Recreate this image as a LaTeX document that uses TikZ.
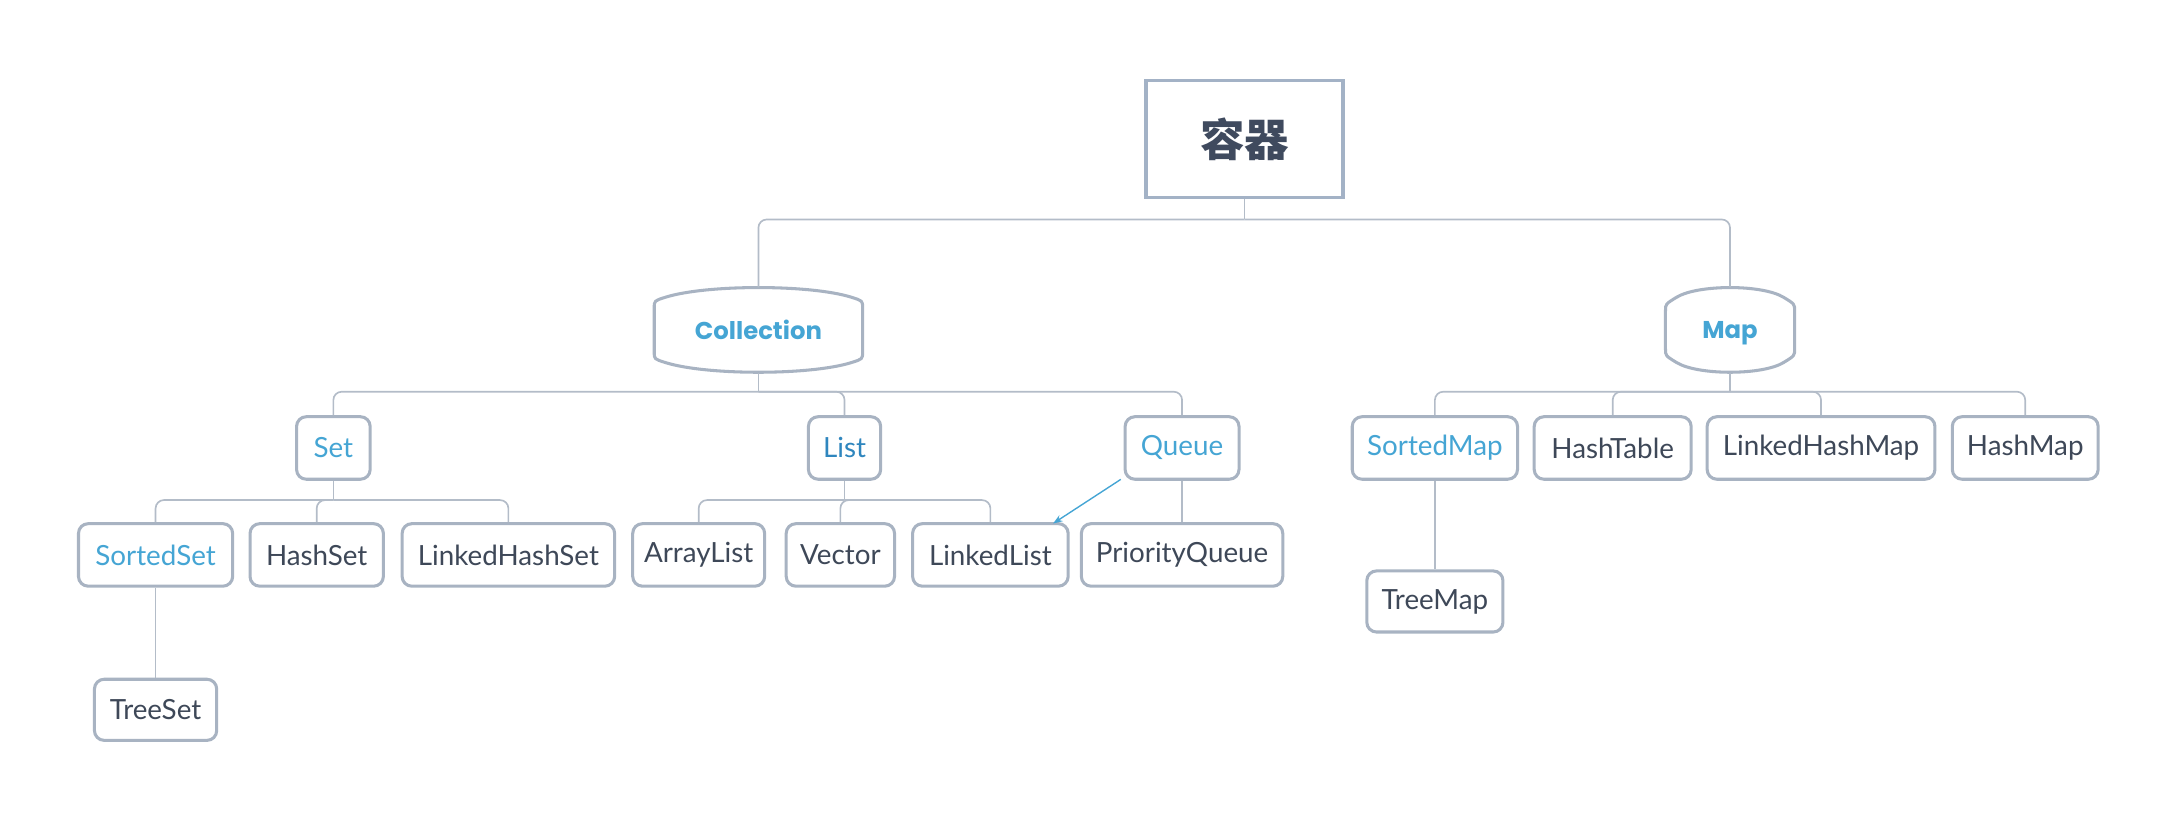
\documentclass[tikz,border=0pt]{standalone}
\usepackage{fontspec}
\usetikzlibrary{arrows.meta}
\setmainfont{Lato}
\newfontfamily\poppins{Poppins}
\newfontfamily\cjk{Noto Sans CJK SC}
\definecolor{bordc}{HTML}{A8B3C2}
\definecolor{linec}{HTML}{B3BCC8}
\definecolor{txtc}{HTML}{3E4858}
\definecolor{bluec}{HTML}{45A5D4}
\definecolor{listc}{HTML}{2F86BE}
\definecolor{rootc}{HTML}{A3B2C6}
\definecolor{roottxt}{HTML}{3F4A5E}
% #1 x, #2 y, #3 half width, #4 half height at the corners, #5 bulge
\newcommand\bulgebox[5]{%
\pgfmathsetmacro\bko{8*1.33*#5/(#3/2-8)}%
\draw[bulgestyle] ({#1-#3},{#2-#4+\bko+5}) -- ({#1-#3},{#2+#4-\bko-5})
 .. controls ({#1-#3},{#2+#4-\bko}) .. ({#1-#3+8},{#2+#4})
 .. controls ({#1-#3/2},{#2+#4+1.33*#5}) and ({#1+#3/2},{#2+#4+1.33*#5}) .. ({#1+#3-8},{#2+#4})
 .. controls ({#1+#3},{#2+#4-\bko}) .. ({#1+#3},{#2+#4-\bko-5})
 -- ({#1+#3},{#2-#4+\bko+5})
 .. controls ({#1+#3},{#2-#4+\bko}) .. ({#1+#3-8},{#2-#4})
 .. controls ({#1+#3/2},{#2-#4-1.33*#5}) and ({#1-#3/2},{#2-#4-1.33*#5}) .. ({#1-#3+8},{#2-#4})
 .. controls ({#1-#3},{#2-#4+\bko}) .. cycle;}
\begin{document}
\begin{tikzpicture}[x=1pt,y=-1pt,
  box/.style={draw=bordc, line width=2.2pt, rounded corners=7pt, fill=white,
    minimum height=45pt, inner xsep=4pt, inner ysep=0pt,
    font=\fontsize{20}{23}\selectfont, text=txtc},
  bluebox/.style={box, text=bluec},
  bulgestyle/.style={draw=bordc, line width=2.2pt, fill=white},
  bignode/.style={inner sep=0pt, minimum height=61pt, text=bluec, text depth=0pt,
    font=\poppins\bfseries\fontsize{17.5}{20}\selectfont},
  conn/.style={draw=linec, line width=1.2pt, rounded corners=6pt},
  arr/.style={draw=bluec, line width=1pt, -{Stealth[length=7pt,width=5pt]}}]
\useasboundingbox (0,0) rectangle (1568,590);
% root
\node[draw=rootc, line width=2.5pt, minimum width=142pt, minimum height=84pt,
  text=roottxt, font=\cjk\bfseries\fontsize{32}{36}\selectfont] (root) at (896,100) {容器};
% level 1
\bulgebox{546}{237.5}{75}{23.5}{7}
\node[bignode, minimum width=150pt] (coll) at (546,237.5) {Collection};
\bulgebox{1245.5}{237.5}{46.5}{23.5}{7}
\node[bignode, minimum width=93pt] (map) at (1245.5,237.5) {Map};
% level 2
\node[bluebox, minimum width=53pt] (set) at (240,322.5) {Set};
\node[box, text=listc, minimum width=52pt] (list) at (608,322.5) {List};
\node[bluebox, minimum width=82pt] (queue) at (851,322.5) {Queue};
\node[bluebox, minimum width=119pt] (smap) at (1033,322.5) {SortedMap};
\node[box, minimum width=113pt] (htab) at (1161,322.5) {HashTable};
\node[box, minimum width=164pt] (lhm) at (1311,322.5) {LinkedHashMap};
\node[box, minimum width=105pt] (hmap) at (1458,322.5) {HashMap};
% level 3
\node[bluebox, minimum width=111pt] (sset) at (112,399.5) {SortedSet};
\node[box, minimum width=96pt] (hset) at (228,399.5) {HashSet};
\node[box, minimum width=153pt] (lhs) at (366,399.5) {LinkedHashSet};
\node[box, minimum width=95pt] (alist) at (503,399.5) {ArrayList};
\node[box, minimum width=78pt] (vec) at (605,399.5) {Vector};
\node[box, minimum width=112pt] (llist) at (713,399.5) {LinkedList};
\node[box, minimum width=145pt] (pq) at (851,399.5) {PriorityQueue};
% level 4
\node[box, minimum width=88pt, minimum height=44pt] (tset) at (112,511) {TreeSet};
\node[box, minimum width=98pt, minimum height=44pt] (tmap) at (1033,433) {TreeMap};
% bar coordinates
\coordinate (rb) at (896,158);
\coordinate (cb) at (546,282);
\coordinate (mb) at (1245.5,282);
\coordinate (sb) at (240,360);
\coordinate (lb) at (608,360);
% connectors
\draw[conn] (root.south) -- (rb);
\draw[conn] (rb) -| (coll.north);
\draw[conn] (rb) -| (map.north);
\draw[conn] (coll.south) -- (cb);
\draw[conn] (cb) -| (set.north);
\draw[conn] (cb) -| (list.north);
\draw[conn] (cb) -| (queue.north);
\draw[conn] (map.south) -- (mb);
\draw[conn] (mb) -| (smap.north);
\draw[conn] (mb) -| (htab.north);
\draw[conn] (mb) -| (lhm.north);
\draw[conn] (mb) -| (hmap.north);
\draw[conn] (set.south) -- (sb);
\draw[conn] (sb) -| (sset.north);
\draw[conn] (sb) -| (hset.north);
\draw[conn] (sb) -| (lhs.north);
\draw[conn] (list.south) -- (lb);
\draw[conn] (lb) -| (alist.north);
\draw[conn] (lb) -| (vec.north);
\draw[conn] (lb) -| (llist.north);
\draw[conn] (queue.south) -- (pq.north);
\draw[conn] (sset.south) -- (tset.north);
\draw[conn] (smap.south) -- (tmap.north);
\draw[arr] ([xshift=-2pt,yshift=1pt]queue.south west) -- ([xshift=-12pt,yshift=-1pt]llist.north east);
\end{tikzpicture}
\end{document}
